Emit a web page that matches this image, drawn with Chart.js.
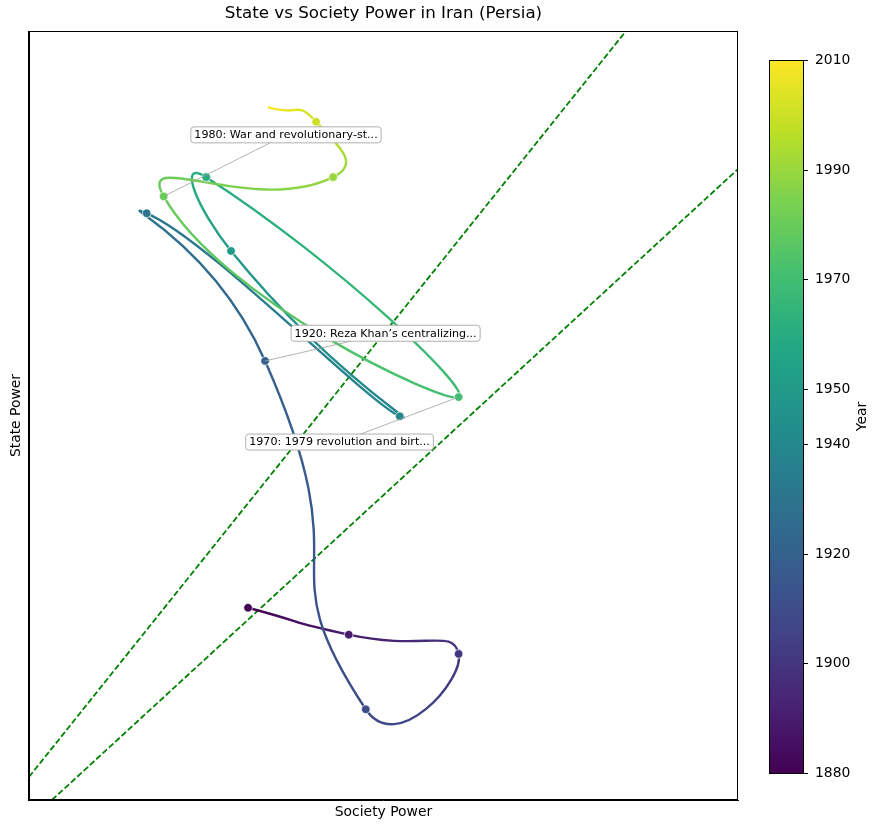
<!DOCTYPE html>
<html><head><meta charset="utf-8">
<script src="https://cdn.jsdelivr.net/npm/chart.js@4.4.1/dist/chart.umd.min.js"></script>
<style>html,body{margin:0;padding:0;background:#fff}#wrap{width:879px;height:831px}</style>
</head><body><div id="wrap"><canvas id="c" width="879" height="831"></canvas></div>
<script>
// ---- data ----
const years   = [1880, 1890, 1900, 1910, 1920, 1930, 1940, 1950, 1960, 1970, 1980, 1990, 2000, 2010];
const society = [30.9, 45.1, 60.6, 47.5, 33.3, 16.6, 52.3, 28.5, 25.0, 60.6, 19.0, 42.9, 40.5, 33.7];
const state   = [25.0, 21.5, 19.0, 11.8, 57.1, 76.3, 49.9, 71.4, 81.0, 52.4, 78.5, 81.0, 88.2, 90.1];
const markerYears = [1880, 1890, 1900, 1910, 1920, 1930, 1940, 1950, 1960, 1970, 1980, 1990, 2000];
const colorbarTicks = [1880, 1900, 1920, 1940, 1950, 1970, 1990, 2010];
const guideUpperX = [0, 84.2];
const guideUpperY = [3.0, 100];
const guideLowerX = [3.24, 100];
const guideLowerY = [0, 82.05];
const noteYears = [1980, 1920, 1970];
const noteTexts = ['1980: War and revolutionary-st...', '1920: Reza Khan\u2019s centralizing...', '1970: 1979 revolution and birt...'];
const noteAtX = [36.25, 50.3, 43.8];
const noteAtY = [86.5, 60.7, 46.55];

// ---- helpers ----
const FONT = "'DejaVu Sans', sans-serif";
const VIR = ['#440154','#482475','#414487','#355f8d','#2a788e','#21918c','#22a884','#44bf70','#7ad151','#bddf26','#fde725'];
function hex2rgb(h){return [parseInt(h.substr(1,2),16),parseInt(h.substr(3,2),16),parseInt(h.substr(5,2),16)];}
const VIRRGB = VIR.map(hex2rgb);
function viridis(t){
  t = Math.max(0, Math.min(1, t));
  const s = t * 10, i = Math.min(9, Math.floor(s)), f = s - i;
  const a = VIRRGB[i], b = VIRRGB[i+1];
  return 'rgb(' + [0,1,2].map(k => Math.round(a[k] + (b[k]-a[k])*f)).join(',') + ')';
}
const yMin = colorbarTicks[0], yMax = colorbarTicks[colorbarTicks.length-1];
const norm = y => (y - yMin) / (yMax - yMin);
const canvas = document.getElementById('c');
const c2d = canvas.getContext('2d');

const annotationPlugin = {
  id: 'notes',
  afterDatasetsDraw(chart) {
    const ctx = chart.ctx, xs = chart.scales.x, ys = chart.scales.y;
    ctx.save();
    ctx.font = '11.1px ' + FONT;
    noteYears.forEach((yr, k) => {
      const i = years.indexOf(yr);
      const px = xs.getPixelForValue(society[i]), py = ys.getPixelForValue(state[i]);
      const cx = xs.getPixelForValue(noteAtX[k]), cy = ys.getPixelForValue(noteAtY[k]);
      const tw = ctx.measureText(noteTexts[k]).width;
      const w = tw + 7, h = 16;
      ctx.strokeStyle = '#a0a0a0'; ctx.lineWidth = 0.8;
      ctx.beginPath(); ctx.moveTo(px, py); ctx.lineTo(cx, cy); ctx.stroke();
      const x0 = cx - w/2, y0 = cy - h/2, r = 3;
      ctx.beginPath();
      ctx.moveTo(x0 + r, y0); ctx.lineTo(x0 + w - r, y0); ctx.quadraticCurveTo(x0 + w, y0, x0 + w, y0 + r);
      ctx.lineTo(x0 + w, y0 + h - r); ctx.quadraticCurveTo(x0 + w, y0 + h, x0 + w - r, y0 + h);
      ctx.lineTo(x0 + r, y0 + h); ctx.quadraticCurveTo(x0, y0 + h, x0, y0 + h - r);
      ctx.lineTo(x0, y0 + r); ctx.quadraticCurveTo(x0, y0, x0 + r, y0); ctx.closePath();
      ctx.fillStyle = '#fff'; ctx.fill();
      ctx.strokeStyle = '#b0b0b0'; ctx.lineWidth = 1; ctx.stroke();
      ctx.fillStyle = '#000'; ctx.textAlign = 'center'; ctx.textBaseline = 'middle';
      ctx.fillText(noteTexts[k], cx, cy + 0.5);
    });
    ctx.restore();
  },
  afterDraw(chart) {
    const ctx = chart.ctx, a = chart.chartArea;
    ctx.save();
    // frame
    ctx.strokeStyle = '#000'; ctx.lineWidth = 1;
    ctx.strokeRect(Math.round(a.left) + 0.5, Math.round(a.top) + 0.5, Math.round(a.right - a.left) - 1, Math.round(a.bottom - a.top) - 1);
    // colorbar
    const cbL = 769, cbR = 804, cbT = 60, cbB = 773;
    const g = ctx.createLinearGradient(0, cbB, 0, cbT);
    VIR.forEach((col, i) => g.addColorStop(i / 10, col));
    ctx.fillStyle = g;
    ctx.fillRect(cbL, cbT, cbR - cbL, cbB - cbT);
    ctx.strokeRect(cbL + 0.5, cbT + 0.5, cbR - cbL - 1, cbB - cbT);
    ctx.font = '13.9px ' + FONT;
    ctx.fillStyle = '#000'; ctx.textAlign = 'left'; ctx.textBaseline = 'middle';
    colorbarTicks.forEach(t => {
      const y = Math.round(cbB - norm(t) * (cbB - cbT)) + 0.5;
      ctx.beginPath(); ctx.moveTo(cbR, y); ctx.lineTo(cbR + 4, y); ctx.stroke();
      ctx.fillText(String(t), cbR + 11, y);
    });
    ctx.translate(862, (cbT + cbB) / 2);
    ctx.rotate(-Math.PI / 2);
    ctx.textAlign = 'center';
    ctx.fillText('Year', 0, 0);
    ctx.restore();
  }
};

const axisCommon = {
  type: 'linear', min: 0, max: 100,
  grid: { display: false, drawTicks: false },
  ticks: { display: false },
  border: { display: true, color: '#000', width: 1 }
};

new Chart(canvas, {
  type: 'line',
  data: {
    datasets: [
      {
        label: 'Iran trajectory',
        data: years.map((y, i) => ({ x: society[i], y: state[i] })),
        borderWidth: 2.4,
        tension: 0.7,
        borderColor: viridis(0.5),
        segment: {
          borderColor: s => {
            const gr = c2d.createLinearGradient(s.p0.x, s.p0.y, s.p1.x, s.p1.y);
            gr.addColorStop(0, viridis(norm(years[s.p0DataIndex])));
            gr.addColorStop(1, viridis(norm(years[s.p1DataIndex])));
            return gr;
          }
        },
        pointRadius: p => markerYears.includes(years[p.dataIndex]) ? 4.3 : 0,
        pointBackgroundColor: p => viridis(norm(years[p.dataIndex])),
        pointBorderColor: '#ffffff',
        pointBorderWidth: 0.7,
        order: 0
      },
      {
        label: 'guide upper',
        data: guideUpperX.map((x, i) => ({ x: x, y: guideUpperY[i] })),
        borderColor: '#008000', borderWidth: 1.8, borderDash: [6, 2.6],
        pointRadius: 0, tension: 0, order: 1
      },
      {
        label: 'guide lower',
        data: guideLowerX.map((x, i) => ({ x: x, y: guideLowerY[i] })),
        borderColor: '#008000', borderWidth: 1.8, borderDash: [6, 2.6],
        pointRadius: 0, tension: 0, order: 1
      }
    ]
  },
  options: {
    responsive: false, animation: false, devicePixelRatio: 1,
    layout: { padding: { left: 4.3, right: 141, top: 0, bottom: 6.3 } },
    plugins: {
      legend: { display: false },
      tooltip: { enabled: false },
      title: {
        display: true, fullSize: false,
        text: 'State vs Society Power in Iran (Persia)',
        font: { family: FONT, size: 16.7, weight: 'normal' }, color: '#000',
        padding: { top: 4, bottom: 7 }
      }
    },
    scales: {
      x: Object.assign({}, axisCommon, {
        title: { display: true, text: 'Society Power', color: '#000', font: { family: FONT, size: 13.9 }, padding: { top: 4, bottom: 4 } }
      }),
      y: Object.assign({}, axisCommon, {
        title: { display: true, text: 'State Power', color: '#000', font: { family: FONT, size: 13.9 }, padding: { top: 4, bottom: 4 } }
      })
    }
  },
  plugins: [annotationPlugin]
});
</script>
</body></html>
